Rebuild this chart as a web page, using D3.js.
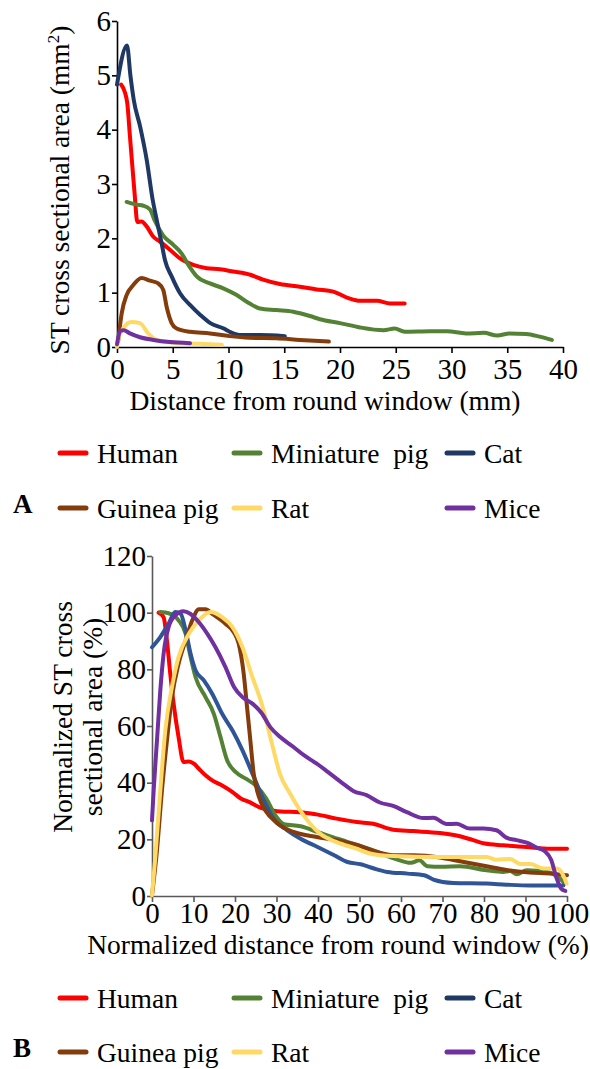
<!DOCTYPE html>
<html>
<head>
<meta charset="utf-8">
<script src="https://cdn.jsdelivr.net/npm/d3@7"></script>
<style>
  body { margin: 0; background: #fff; }
  svg text { font-family: "Liberation Serif", "Times New Roman", serif; fill: #000; }
  .legend text { white-space: pre; }
</style>
</head>
<body>
<svg id="fig" width="590" height="1069"></svg>
<script>
"use strict";

// species, same order in both panels
var species = ["Human", "Miniature  pig", "Cat", "Guinea pig", "Rat", "Mice"];

// panel A: distance (mm) vs ST cross sectional area (mm2), [x, y]
var humanA = [[0.37,4.83],[0.72,4.68],[0.92,4.49],[1.16,3.88],[1.4,3.27],[1.6,2.77],[1.82,2.3],[2.2,2.31],[2.66,2.22],[3.26,2.03],[3.86,1.94],[4.75,1.79],[5.65,1.63],[6.84,1.51],[8.04,1.45],[9.23,1.43],[10.4,1.39],[11.96,1.33],[13.1,1.24],[14.6,1.16],[16.4,1.11],[17.9,1.06],[19.4,1.02],[20.75,0.9],[21.8,0.85],[23.3,0.85],[24.5,0.8],[25.8,0.8]];
var pigA = [[0.87,2.67],[1.76,2.62],[2.36,2.6],[2.96,2.53],[3.4,2.32],[4.15,2.05],[5.05,1.88],[5.8,1.72],[6.4,1.51],[7.15,1.3],[8.34,1.17],[9.53,1.08],[10.7,0.96],[11.9,0.8],[12.8,0.71],[14.3,0.68],[15.8,0.65],[17.3,0.57],[18.2,0.51],[20,0.44],[21.8,0.36],[23.9,0.31],[24.9,0.34],[25.8,0.28],[28.1,0.29],[29.6,0.29],[31.3,0.25],[32.9,0.26],[34.1,0.21],[35.2,0.25],[36.7,0.24],[37.9,0.19],[39,0.13]];
var catA = [[0,4.83],[0.9,5.55],[1.2,5.0],[1.5,4.55],[2.07,4.06],[2.66,3.45],[3.2,2.71],[3.56,2.34],[4.0,1.91],[4.3,1.6],[4.9,1.3],[5.65,0.99],[6.57,0.77],[7.47,0.59],[8.37,0.44],[9.57,0.34],[10.1,0.28],[11.0,0.22],[12.8,0.22],[15.05,0.2]];
var guineaA = [[0.1,0.1],[0.42,0.62],[0.87,0.96],[1.46,1.14],[2.2,1.27],[2.96,1.22],[3.7,1.17],[4.15,1.05],[4.45,0.74],[4.9,0.44],[5.35,0.34],[6.55,0.28],[8.34,0.25],[10.1,0.2],[11.9,0.17],[14.3,0.16],[16.4,0.13],[19.0,0.1]];
var ratA = [[0,0],[0.1,0.13],[0.55,0.34],[1.3,0.46],[2.06,0.44],[2.8,0.25],[3.55,0.13],[5.05,0.08],[7.4,0.06],[9.4,0.04]];
var miceA = [[0,0.05],[0.3,0.3],[0.6,0.31],[1.16,0.25],[2.06,0.18],[3.26,0.13],[4.75,0.09],[6.55,0.07]];

// panel B: normalized distance (%) vs normalized area (%)
var humanB = [[1.6,100],[2.8,98.4],[3.6,90.2],[4.4,78.4],[5.2,67.9],[6.4,56.1],[7.6,47.3],[8.9,47.5],[10.1,46.7],[11.3,44.9],[12.9,42.6],[14.5,40.8],[16.9,39],[19.4,36.7],[21.4,34.4],[23.4,33.2],[25.8,31.4],[29,30.2],[30.9,29.8],[35.7,29.6],[39.7,28.8],[44.5,27.3],[49.3,26.1],[53.3,25.5],[58.1,23.4],[62.9,22.9],[69.4,22.2],[74.2,21.1],[77.4,19.7],[80.2,18.5],[84.6,17.9],[90.3,17.3],[95.9,16.7],[100,16.7]];
var pigB = [[2,100.2],[4,99.8],[6.4,97.3],[8.1,92.6],[9.3,84.3],[10.5,77.2],[12.9,70.2],[14.9,64.3],[16.5,56.1],[18.1,47.9],[20.2,43.7],[22.6,41.4],[25,39],[27.5,34.5],[29.7,28.5],[31.8,25.3],[35.8,24.6],[39.9,22.6],[44.7,20.2],[49.5,18],[53.5,16],[58.4,13.2],[62.4,11.7],[64.4,12.6],[66.4,10.5],[69.7,10.3],[74.2,10.5],[80.6,9.1],[84.6,8.5],[86.3,8.8],[87.9,7.7],[90.3,9.1],[95.1,8.5],[97.9,6.7],[99.5,4.4]];
var catB = [[0,87.8],[2,91.4],[4,96.1],[5.6,100.2],[6.9,99.6],[8.1,93.7],[9.3,85.5],[10.5,79.6],[12.5,76.1],[14.5,71.4],[16.9,64.3],[19.4,58.4],[21.8,51.4],[24.2,43.2],[26.6,34.9],[29.4,27],[32.6,23.2],[35.8,20.2],[39.9,17.3],[43.9,14.4],[47.1,12],[50.3,11.2],[53.5,9.7],[56.7,8.5],[61.6,7.9],[65.6,7.3],[67.8,5.8],[72.6,4.6],[80.6,4.4],[85.4,4.0],[91.1,3.7],[99.1,3.7]];
var guineaB = [[0,0.2],[1.2,16.1],[2.4,37.3],[3.6,54.9],[4.8,70.2],[6.4,82],[8.1,90.2],[9.7,97.3],[11.3,101.2],[12.9,101.2],[14.5,99.6],[17.7,96.1],[19.7,93.1],[20.9,89],[22.1,78.4],[22.9,66.7],[23.7,54.9],[24.5,43.2],[25.8,34.9],[27.4,30],[30.1,25.8],[34.1,22.6],[39.7,20.8],[44.5,19.7],[49.3,18],[54.1,15.6],[58.1,14.4],[62.9,14.4],[69.4,13.6],[72.6,12.7],[80.6,10.5],[85.4,9.2],[91,8.3],[96.6,7.9],[100,7.3]];
var ratB = [[0,0.2],[0.8,13.8],[2,37.3],[3.2,58.4],[4.8,73.7],[6.4,84.3],[8.9,92.6],[11.3,97.3],[14.1,100.2],[16.9,98.4],[19.4,94.9],[21.8,87.8],[24.2,77.2],[26.4,68],[27.7,60.8],[29.3,51.4],[30.8,43.2],[33.3,36.1],[35.7,30.2],[38.1,25.5],[40.5,22],[44.5,19],[49.3,16.7],[52.5,15],[58.1,14.1],[69.4,13.8],[80.6,13.8],[83,12.8],[86.3,13.1],[88.7,11.3],[91.1,11.3],[94.3,9.7],[97.5,9.7],[99.1,7.3],[99.9,4.4]];
var miceB = [[0,26.7],[0.4,37.3],[1.2,54.9],[2,72.5],[2.8,85.5],[4,94.9],[5.6,99],[7.6,100.5],[9.2,99.6],[11.3,96.6],[13.3,92.6],[15.3,87.8],[17.7,80.8],[19.8,73.7],[21.8,70.2],[24.2,67.9],[26.4,64.6],[28.5,59.6],[30.9,56.1],[34.1,52.6],[36.6,49.7],[39.7,46.7],[42.9,43.2],[46.1,39.6],[48.5,37.1],[51.7,35.6],[54.9,33],[58.1,31.8],[61.4,29.6],[65.4,27.5],[67.8,27.6],[71,25.4],[73.4,25.5],[76.6,23.8],[79.8,23.8],[83,23.2],[85.4,20.6],[87.8,19.7],[90.3,18.8],[92.7,17.1],[94.6,15.9],[96.2,12.7],[97.4,6.7],[98.6,2.6],[99.6,1.8]];

var ticksA_x = [0, 5, 10, 15, 20, 25, 30, 35, 40];
var ticksA_y = [0, 1, 2, 3, 4, 5, 6];
var ticksB_x = [0, 10, 20, 30, 40, 50, 60, 70, 80, 90, 100];
var ticksB_y = [0, 20, 40, 60, 80, 100, 120];

var colorsA = ["#ff0000", "#548235", "#1f3864", "#843c0c", "#ffd966", "#7030a0"];
var colorsB = ["#ff0000", "#548235", "#2f5597", "#843c0c", "#ffd966", "#7030a0"];
var legendColors = ["#ff0000", "#548235", "#203864", "#843c0c", "#ffd966", "#7030a0"];

var svg = d3.select("#fig");

function drawPanel(opt) {
  var x = d3.scaleLinear().domain(opt.xDomain).range(opt.xRange);
  var y = d3.scaleLinear().domain(opt.yDomain).range(opt.yRange);

  var line = d3.line().x(function (d) { return x(d[0]); }).y(function (d) { return y(d[1]); }).curve(d3.curveMonotoneX);

  var g = svg.append("g");

  //axes
  var xAxis = g.append("g").attr("transform", "translate(0," + opt.yRange[0] + ")")
    .call(d3.axisBottom(x).tickValues(opt.xTicks).tickFormat(d3.format("d")).tickSize(6).tickPadding(opt.xPad).tickSizeOuter(0));
  var yAxis = g.append("g").attr("transform", "translate(" + opt.xRange[0] + ",0)")
    .call(d3.axisLeft(y).tickValues(opt.yTicks).tickFormat(d3.format("d")).tickSize(5).tickPadding(1).tickSizeOuter(0));
  [xAxis, yAxis].forEach(function (a) {
    a.selectAll("path,line").attr("stroke", opt.axisColor).attr("stroke-width", 1.6);
    a.selectAll("text").style("font-size", "29px").style("font-family", "Liberation Serif").attr("fill", "#000");
  });

  //lines
  g.selectAll(".series").data(opt.series).enter().append("path")
    .attr("d", line).attr("fill", "none")
    .attr("stroke", function (d, i) { return opt.colors[i]; })
    .attr("stroke-width", 4).attr("stroke-linejoin", "round").attr("stroke-linecap", "round");

  //x title
  g.append("text").attr("x", opt.xTitlePos[0]).attr("y", opt.xTitlePos[1]).attr("text-anchor", "middle")
    .style("font-size", "27.5px").text(opt.xTitle);

  //y title (one or more lines)
  opt.yTitle.forEach(function (t, k) {
    var txt = g.append("text").attr("transform", "translate(" + opt.yTitlePos[k] + "," + opt.yTitleMid + ") rotate(-90)")
      .attr("text-anchor", "middle").style("font-size", "27.5px");
    if (t.sup) {
      txt.append("tspan").text(t.text);
      txt.append("tspan").attr("dy", -10).style("font-size", "17px").text(t.sup);
      txt.append("tspan").attr("dy", 10).text(t.after);
    } else {
      txt.text(t.text);
    }
  });

  //legend
  var colX = [58, 232, 445];
  var lg = g.append("g").attr("class", "legend");
  species.forEach(function (name, i) {
    var cx = colX[i % 3];
    var cy = opt.legendY[Math.floor(i / 3)];
    lg.append("line").attr("x1", cx + 2).attr("x2", cx + 28).attr("y1", cy).attr("y2", cy)
      .attr("stroke", legendColors[i]).attr("stroke-width", 5).attr("stroke-linecap", "round");
    lg.append("text").attr("x", cx + 39).attr("y", cy + 10).style("font-size", "27.5px").text(name);
  });

  //panel letter
  g.append("text").attr("x", 13).attr("y", opt.legendY[1] + 5).style("font-size", "27px").style("font-weight", "bold").text(opt.letter);
}

drawPanel({
  xDomain: [0, 40], yDomain: [0, 6], xRange: [117, 563], yRange: [347, 21],
  xTicks: ticksA_x, yTicks: ticksA_y, xPad: 5, axisColor: "#000",
  series: [humanA, pigA, catA, guineaA, ratA, miceA], colors: colorsA,
  xTitle: "Distance from round window (mm)", xTitlePos: [325, 410],
  yTitle: [{ text: "ST cross sectional area (mm", sup: "2", after: ")" }], yTitlePos: [69], yTitleMid: 190,
  legendY: [453, 508], letter: "A"
});

drawPanel({
  xDomain: [0, 100], yDomain: [0, 120], xRange: [152, 567], yRange: [896, 556],
  xTicks: ticksB_x, yTicks: ticksB_y, xPad: 0, axisColor: "#595959",
  series: [humanB, pigB, catB, guineaB, ratB, miceB], colors: colorsB,
  xTitle: "Normalized distance from round window (%)", xTitlePos: [338, 954],
  yTitle: [{ text: "Normalized ST cross" }, { text: "sectional area (%)" }], yTitlePos: [72, 102], yTitleMid: 717,
  legendY: [998, 1052], letter: "B"
});
</script>
</body>
</html>
